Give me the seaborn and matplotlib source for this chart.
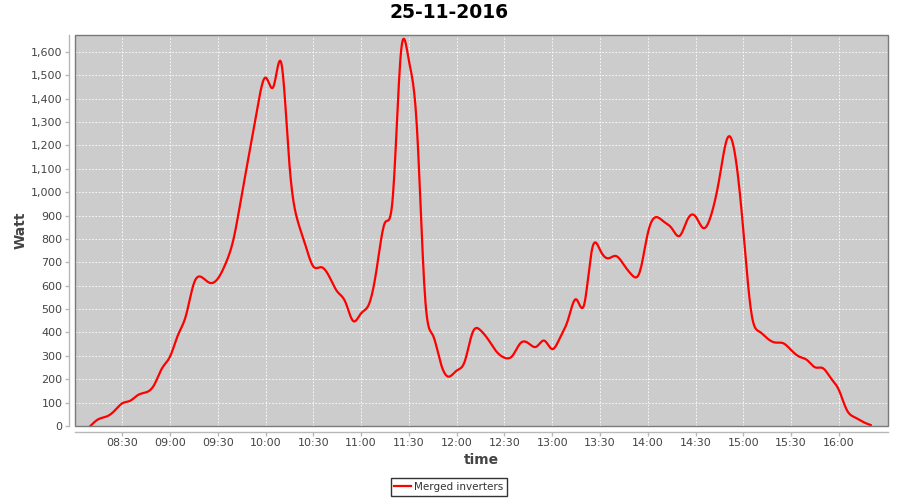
import numpy as np
import pandas as pd
import matplotlib
matplotlib.use("Agg")
import matplotlib.pyplot as plt
import matplotlib.dates as mdates
import matplotlib.ticker as mticker
import matplotlib.patches as mpatches
import seaborn as sns

# ---- data ----
title = "25-11-2016"
series_name = "Merged inverters"
day = "2016-11-25"
times = [
    "08:10", "08:15", "08:20", "08:25", "08:30", "08:35", "08:40", "08:45", "08:50", "08:55",
    "09:00", "09:05", "09:10", "09:15", "09:20", "09:25", "09:30", "09:35", "09:40", "09:45",
    "09:50", "09:55", "10:00", "10:05", "10:10", "10:15", "10:20", "10:25", "10:30", "10:35",
    "10:40", "10:45", "10:50", "10:55", "11:00", "11:05", "11:10", "11:15", "11:20", "11:25",
    "11:30", "11:35", "11:40", "11:45", "11:50", "11:55", "12:00", "12:05", "12:10", "12:15",
    "12:20", "12:25", "12:30", "12:35", "12:40", "12:45", "12:50", "12:55", "13:00", "13:05",
    "13:10", "13:15", "13:20", "13:25", "13:30", "13:35", "13:40", "13:45", "13:50", "13:55",
    "14:00", "14:05", "14:10", "14:15", "14:20", "14:25", "14:30", "14:35", "14:40", "14:45",
    "14:50", "14:55", "15:00", "15:05", "15:10", "15:15", "15:20", "15:25", "15:30", "15:35",
    "15:40", "15:45", "15:50", "15:55", "16:00", "16:05", "16:10", "16:15", "16:20",
]
watts = [
    0, 29, 40, 64, 97, 108, 133, 144, 175, 247,
    297, 389, 472, 610, 636, 612, 630, 696, 803, 988,
    1175, 1365, 1490, 1452, 1548, 1117, 881, 774, 682, 679,
    639, 575, 532, 449, 482, 522, 682, 870, 988, 1597,
    1562, 1281, 566, 389, 268, 211, 237, 275, 400, 409,
    368, 318, 292, 300, 354, 354, 339, 365, 329, 379,
    456, 542, 518, 756, 753, 717, 727, 689, 646, 660,
    824, 893, 874, 846, 813, 884, 896, 846, 907, 1060,
    1231, 1152, 836, 485, 404, 375, 357, 354, 325, 297,
    282, 251, 247, 204, 154, 68, 37, 18, 4,
]
tick_labels = ["08:30", "09:00", "09:30", "10:00", "10:30", "11:00", "11:30", "12:00",
               "12:30", "13:00", "13:30", "14:00", "14:30", "15:00", "15:30", "16:00"]

# ---- spline rendering (like a spline line renderer) ----
t = pd.to_datetime([f"{day} {s}" for s in times])
xm = np.asarray((t - t[0]).total_seconds() / 60.0, dtype=float)
y = np.asarray(watts, dtype=float)
n = len(xm)
h = np.diff(xm)
A = np.zeros((n, n))
b = np.zeros(n)
A[0, 0] = 1.0
A[-1, -1] = 1.0
for i in range(1, n - 1):
    A[i, i - 1] = h[i - 1]
    A[i, i] = 2 * (h[i - 1] + h[i])
    A[i, i + 1] = h[i]
    b[i] = 6 * ((y[i + 1] - y[i]) / h[i] - (y[i] - y[i - 1]) / h[i - 1])
M = np.linalg.solve(A, b)
xs, ys = [], []
for i in range(n - 1):
    u = np.linspace(0, 1, 12, endpoint=False)
    xx = xm[i] + u * h[i]
    a = xm[i + 1] - xx
    c = xx - xm[i]
    yy = (M[i] * a**3 + M[i + 1] * c**3) / (6 * h[i]) \
        + (y[i] / h[i] - M[i] * h[i] / 6) * a \
        + (y[i + 1] / h[i] - M[i + 1] * h[i] / 6) * c
    xs.append(xx)
    ys.append(yy)
xs.append([xm[-1]])
ys.append([y[-1]])
xs = np.concatenate(xs)
ys = np.concatenate(ys)
df = pd.DataFrame({
    "time": t[0] + pd.to_timedelta(xs, unit="m"),
    "Watt": ys,
    "series": series_name,
})

# ---- figure ----
fig = plt.figure(figsize=(9, 5), dpi=100, facecolor="white")
ax = fig.add_axes([75 / 900, 1 - 426 / 500, 813 / 900, 391 / 500])
ax.set_facecolor("#cccccc")

sns.lineplot(data=df, x="time", y="Watt", hue="series", palette=["#ff0000"],
             estimator=None, sort=False, linewidth=1.6, ax=ax, legend=False)

ax.set_xlim(pd.Timestamp(f"{day} 08:00:20"), pd.Timestamp(f"{day} 16:30:50"))
ax.set_ylim(0, 1672)

ax.set_xticks(pd.to_datetime([f"{day} {s}" for s in tick_labels]))
ax.xaxis.set_major_formatter(mdates.DateFormatter("%H:%M"))
ax.yaxis.set_major_locator(mticker.MultipleLocator(100))
ax.yaxis.set_major_formatter(mticker.FuncFormatter(lambda v, p: f"{int(round(v)):,}"))

ax.grid(True, color="white", linestyle=(0, (2, 2)), linewidth=0.6)
ax.set_axisbelow(True)

for side in ["top", "right"]:
    ax.spines[side].set_visible(False)
for side in ["left", "bottom"]:
    ax.spines[side].set_position(("outward", 4))
    ax.spines[side].set_color("#b8b8b8")
    ax.spines[side].set_linewidth(1)
ax.add_patch(mpatches.Rectangle((0, 0), 1, 1, transform=ax.transAxes, fill=False,
                                edgecolor="#7a7a7a", linewidth=1, zorder=5, clip_on=False))
ax.tick_params(axis="both", direction="out", length=3, width=1, color="#b8b8b8",
               labelcolor="#444444", labelsize=8, pad=2)
ax.set_xlabel("")
ax.set_ylabel("")

fig.text(0.499, 1 - 13 / 500, title, ha="center", va="center",
         fontsize=13.5, fontweight="bold", color="black")
fig.text(20.5 / 900, 1 - 230.5 / 500, "Watt", rotation=90, ha="center", va="center",
         fontsize=10, fontweight="bold", color="#444444")
fig.text(481.5 / 900, 1 - 460 / 500, "time", ha="center", va="center",
         fontsize=10, fontweight="bold", color="#444444")

handle = plt.Line2D([], [], color="#ff0000", linewidth=1.6)
leg = fig.legend([handle], [series_name], loc="center",
                 bbox_to_anchor=(449 / 900, 1 - 487 / 500), bbox_transform=fig.transFigure,
                 fontsize=7.5, frameon=True, fancybox=False, handlelength=1.6,
                 handletextpad=0.3, borderpad=0.35, borderaxespad=0)
leg.get_frame().set_edgecolor("black")
leg.get_frame().set_linewidth(1)
for txt in leg.get_texts():
    txt.set_color("#333333")

fig.savefig("out.png", dpi=100, facecolor="white")
